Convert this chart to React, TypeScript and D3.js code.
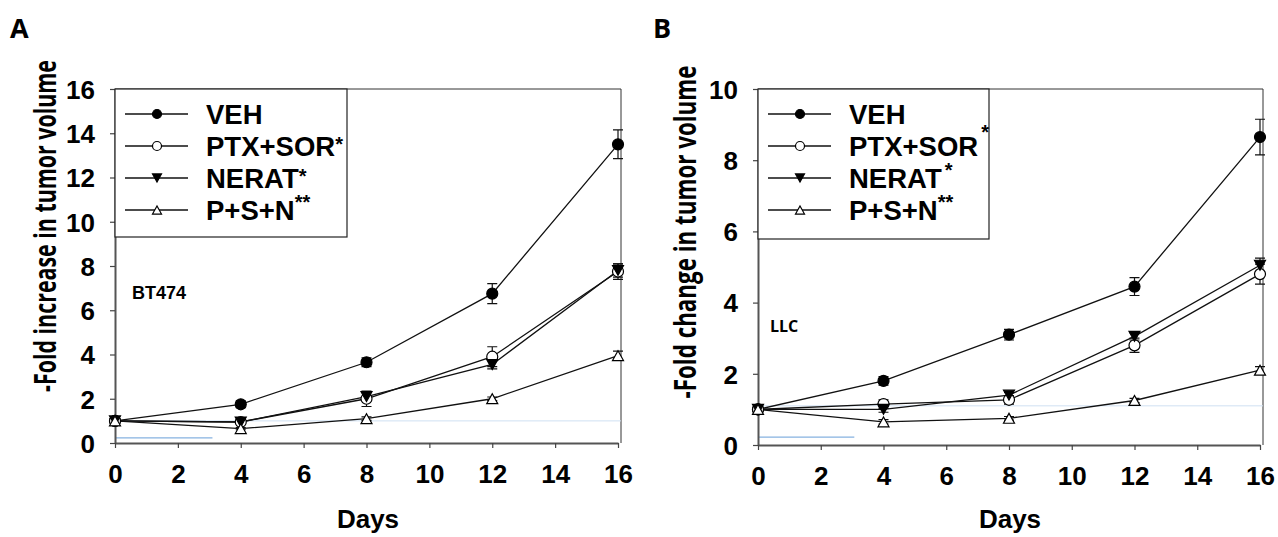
import React, { useEffect, useRef } from 'react';
import * as d3 from 'd3';

const days = [0, 4, 8, 12, 16];
const seriesNames = ['VEH', 'PTX+SOR', 'NERAT', 'P+S+N'];
const seriesStars = ['', '*', '*', '**'];
const seriesMarks = ['dot', 'circle', 'down', 'up'];

// BT474 (panel A)
const bt474Veh = [1.0, 1.75, 3.65, 6.75, 13.5];
const bt474VehErr = [0, 0.15, 0.2, 0.45, 0.65];
const bt474PtxSor = [1.0, 0.95, 2.0, 3.9, 7.75];
const bt474PtxSorErr = [0, 0.08, 0.35, 0.45, 0.35];
const bt474Nerat = [1.0, 0.95, 2.1, 3.55, 7.8];
const bt474NeratErr = [0, 0.08, 0.2, 0.2, 0.3];
const bt474Psn = [1.0, 0.65, 1.1, 2.0, 3.95];
const bt474PsnErr = [0, 0.05, 0.08, 0.08, 0.2];

// LLC (panel B)
const llcVeh = [1.0, 1.8, 3.1, 4.45, 8.65];
const llcVehErr = [0, 0.12, 0.15, 0.25, 0.5];
const llcPtxSor = [1.0, 1.15, 1.27, 2.8, 4.8];
const llcPtxSorErr = [0, 0.12, 0.12, 0.2, 0.28];
const llcNerat = [1.0, 1.0, 1.4, 3.05, 5.05];
const llcNeratErr = [0, 0.08, 0.08, 0.1, 0.2];
const llcPsn = [1.0, 0.65, 0.75, 1.25, 2.1];
const llcPsnErr = [0, 0.06, 0.05, 0.06, 0.1];

const panels = [
  {
    letter: 'A',
    cell: 'BT474',
    yLabel: '-Fold increase in tumor volume',
    yMax: 16,
    yTicks: [0, 2, 4, 6, 8, 10, 12, 14, 16],
    values: [bt474Veh, bt474PtxSor, bt474Nerat, bt474Psn],
    errors: [bt474VehErr, bt474PtxSorErr, bt474NeratErr, bt474PsnErr],
    faintLine: 1.0,
    shortLine: [0.23, 3.1],
  },
  {
    letter: 'B',
    cell: 'LLC',
    yLabel: '-Fold change in tumor volume',
    yMax: 10,
    yTicks: [0, 2, 4, 6, 8, 10],
    values: [llcVeh, llcPtxSor, llcNerat, llcPsn],
    errors: [llcVehErr, llcPtxSorErr, llcNeratErr, llcPsnErr],
    faintLine: 1.1,
    shortLine: [0.22, 3.07],
  },
];

const xTicks = [0, 2, 4, 6, 8, 10, 12, 14, 16];

// layout per panel
const layout = [
  { left: 115, right: 618, frameRight: 621, top: 89, bottom: 443, legendRight: 347, legendBottom: 237,
    starDy: [0, -5, -5, -11], labelX: 56, labelY: 226, labelLen: 332, cellX: 132, cellY: 299, letterX: 10, daysX: 368 },
  { left: 758, right: 1260, frameRight: 1263, top: 89, bottom: 445, legendRight: 989, legendBottom: 239,
    starDy: [0, -17, -11, -11], labelX: 696, labelY: 232, labelLen: 333, cellX: 770, cellY: 332, letterX: 653, daysX: 1010 },
];

const tickFont = '"Liberation Sans", Arial, sans-serif';
const labelFont = '"Open Sans", "Liberation Sans", sans-serif';

const drawMarker = (g, kind, x, y, s) => {
  if (kind === 'dot' || kind === 'circle') {
    g.append('circle').attr('cx', x).attr('cy', y).attr('r', s * 0.5)
      .attr('fill', kind === 'dot' ? '#000' : '#fff').attr('stroke', '#000').attr('stroke-width', 1.2);
  } else {
    const h = s * 0.9;
    const pts = kind === 'down'
      ? [[x - s / 2, y - h / 2], [x + s / 2, y - h / 2], [x, y + h / 2]]
      : [[x - s / 2, y + h / 2], [x + s / 2, y + h / 2], [x, y - h / 2]];
    g.append('polygon').attr('points', pts.map(p => p.join(',')).join(' '))
      .attr('fill', kind === 'down' ? '#000' : '#fff').attr('stroke', '#000').attr('stroke-width', 1.2);
  }
};

const App = () => {
  const ref = useRef(null);

  useEffect(() => {
    const svg = d3.select(ref.current);
    svg.selectAll('*').remove();

    panels.forEach((p, pi) => {
      const L = layout[pi];
      const x = d3.scaleLinear().domain([0, 16]).range([L.left, L.right]);
      const y = d3.scaleLinear().domain([0, p.yMax]).range([L.bottom, L.top]);
      const g = svg.append('g');

      // panel letter
      g.append('text').attr('x', L.letterX).attr('y', 38).text(p.letter)
        .attr('font-family', labelFont).attr('font-weight', 700).attr('font-size', 27);

      // frame top and right
      g.append('path')
        .attr('d', `M${L.left},${L.top}H${L.frameRight}V${L.bottom}`)
        .attr('fill', 'none').attr('stroke', '#333').attr('stroke-width', 1);

      // faint blue guide lines
      g.append('line').attr('x1', L.left).attr('x2', L.frameRight)
        .attr('y1', y(p.faintLine)).attr('y2', y(p.faintLine))
        .attr('stroke', '#cfe0f2').attr('stroke-width', 1);
      g.append('line').attr('x1', x(0)).attr('x2', x(p.shortLine[1]))
        .attr('y1', y(p.shortLine[0])).attr('y2', y(p.shortLine[0]))
        .attr('stroke', '#86b2e0').attr('stroke-width', 1.3);

      // axes
      const yAxis = g.append('g').attr('transform', `translate(${L.left},0)`)
        .call(d3.axisLeft(y).tickValues(p.yTicks).tickSize(5).tickPadding(15).tickSizeOuter(0));
      const xAxis = g.append('g').attr('transform', `translate(0,${L.bottom})`)
        .call(d3.axisBottom(x).tickValues(xTicks).tickSize(5).tickPadding(16).tickSizeOuter(0));
      [yAxis, xAxis].forEach(a => {
        a.select('.domain').attr('stroke', '#555').attr('stroke-width', 2);
        a.selectAll('.tick line').attr('stroke', '#444').attr('stroke-width', 1.2);
        a.selectAll('.tick text').attr('font-family', tickFont).attr('font-weight', 700)
          .attr('font-size', 26).attr('fill', '#000');
      });
      yAxis.selectAll('.tick text').attr('dy', '0.36em');
      xAxis.selectAll('.tick text').attr('dy', '0.72em');

      // y title: condensed horizontally to fit the reference length
      const yTitle = g.append('text')
        .attr('text-anchor', 'middle').attr('font-family', labelFont).attr('font-weight', 700)
        .attr('font-size', 30).text(p.yLabel);
      const natural = yTitle.node().getComputedTextLength() || L.labelLen;
      const sx = Math.min(1, L.labelLen / natural);
      yTitle.attr('transform', `translate(${L.labelX},${L.labelY}) rotate(-90) scale(${sx},1)`);

      g.append('text').attr('x', L.daysX).attr('y', 528).attr('text-anchor', 'middle')
        .attr('font-family', tickFont).attr('font-weight', 700).attr('font-size', 26).text('Days');

      // cell line label
      g.append('text').attr('x', L.cellX).attr('y', L.cellY)
        .attr('font-family', pi === 0 ? tickFont : labelFont).attr('font-weight', 700)
        .attr('font-size', pi === 0 ? 18 : 16).text(p.cell);

      // series lines
      const line = d3.line().x((d, i) => x(days[i])).y(d => y(d));
      p.values.forEach(vals => {
        g.append('path').datum(vals).attr('d', line)
          .attr('fill', 'none').attr('stroke', '#111').attr('stroke-width', 1.3);
      });

      // error bars
      p.values.forEach((vals, si) => {
        vals.forEach((v, i) => {
          const e = p.errors[si][i];
          if (!e) return;
          const cx = x(days[i]);
          g.append('path')
            .attr('d', `M${cx},${y(v - e)}V${y(v + e)}M${cx - 5},${y(v - e)}H${cx + 5}M${cx - 5},${y(v + e)}H${cx + 5}`)
            .attr('fill', 'none').attr('stroke', '#111').attr('stroke-width', 1.2);
        });
      });

      // markers
      p.values.forEach((vals, si) => {
        vals.forEach((v, i) => drawMarker(g, seriesMarks[si], x(days[i]), y(v), 11));
      });

      // legend
      const lx = L.left;
      g.append('rect').attr('x', lx).attr('y', L.top)
        .attr('width', L.legendRight - lx).attr('height', L.legendBottom - L.top)
        .attr('fill', '#fff').attr('stroke', '#222').attr('stroke-width', 1.2);
      seriesNames.forEach((name, si) => {
        const ly = L.top + 25 + si * 32;
        g.append('line').attr('x1', lx + 10).attr('x2', lx + 73).attr('y1', ly).attr('y2', ly)
          .attr('stroke', '#111').attr('stroke-width', 1.3);
        drawMarker(g, seriesMarks[si], lx + 42, ly, 9);
        const t = g.append('text').attr('x', lx + 91).attr('y', ly + 10)
          .attr('font-family', tickFont).attr('font-weight', 700).attr('font-size', 27.5).text(name);
        if (seriesStars[si]) {
          t.append('tspan').attr('font-size', 20).attr('dy', L.starDy[si]).attr('dx', pi === 1 && si < 3 ? 3 : 0)
            .text(seriesStars[si]);
        }
      });
    });
  }, []);

  return (
    <svg ref={ref} width={1278} height={537}
      style={{ position: 'absolute', left: 0, top: 0, background: '#fff' }} />
  );
};

export default App;
